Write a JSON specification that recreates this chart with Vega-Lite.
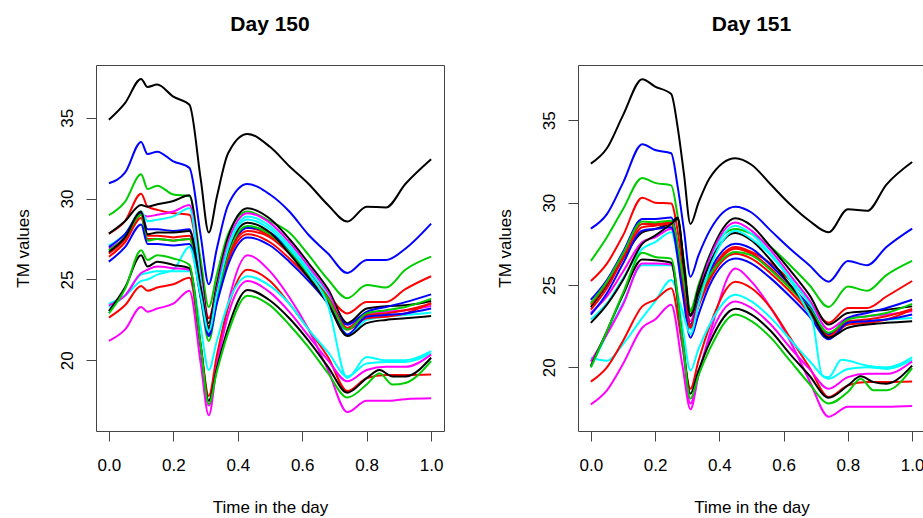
{
"$schema": "https://vega.github.io/schema/vega-lite/v6.json",
"background": "white",
"padding": {"left": 13, "top": 13, "right": 0, "bottom": 0},
"datasets": {
"d150": [
{"s":"k1","t":0,"v":34.87},{"s":"k1","t":0.05,"v":35.9},{"s":"k1","t":0.1,"v":37.4},{"s":"k1","t":0.12,"v":36.9},{"s":"k1","t":0.15,"v":37.05},{"s":"k1","t":0.2,"v":36.3},{"s":"k1","t":0.25,"v":35.8},{"s":"k1","t":0.31,"v":27.9},{"s":"k1","t":0.37,"v":32.8},{"s":"k1","t":0.43,"v":34.0},{"s":"k1","t":0.5,"v":33.2},{"s":"k1","t":0.56,"v":32.0},{"s":"k1","t":0.62,"v":30.9},{"s":"k1","t":0.68,"v":29.6},{"s":"k1","t":0.74,"v":28.58},{"s":"k1","t":0.8,"v":29.5},{"s":"k1","t":0.86,"v":29.45},{"s":"k1","t":0.92,"v":30.9},{"s":"k1","t":1,"v":32.43},
{"s":"b1","t":0,"v":30.95},{"s":"b1","t":0.05,"v":31.6},{"s":"b1","t":0.1,"v":33.5},{"s":"b1","t":0.12,"v":32.75},{"s":"b1","t":0.15,"v":32.9},{"s":"b1","t":0.2,"v":32.3},{"s":"b1","t":0.25,"v":31.9},{"s":"b1","t":0.31,"v":24.7},{"s":"b1","t":0.37,"v":29.6},{"s":"b1","t":0.43,"v":30.9},{"s":"b1","t":0.5,"v":30.25},{"s":"b1","t":0.56,"v":29.2},{"s":"b1","t":0.62,"v":27.75},{"s":"b1","t":0.68,"v":26.6},{"s":"b1","t":0.74,"v":25.4},{"s":"b1","t":0.8,"v":26.2},{"s":"b1","t":0.86,"v":26.2},{"s":"b1","t":0.92,"v":26.9},{"s":"b1","t":1,"v":28.45},
{"s":"g1","t":0,"v":28.97},{"s":"g1","t":0.05,"v":29.8},{"s":"g1","t":0.1,"v":31.5},{"s":"g1","t":0.12,"v":30.6},{"s":"g1","t":0.15,"v":30.8},{"s":"g1","t":0.2,"v":30.25},{"s":"g1","t":0.25,"v":30.15},{"s":"g1","t":0.31,"v":23.3},{"s":"g1","t":0.37,"v":27.8},{"s":"g1","t":0.43,"v":29.2},{"s":"g1","t":0.5,"v":28.6},{"s":"g1","t":0.56,"v":27.9},{"s":"g1","t":0.62,"v":26.5},{"s":"g1","t":0.68,"v":25.0},{"s":"g1","t":0.74,"v":23.84},{"s":"g1","t":0.8,"v":24.65},{"s":"g1","t":0.86,"v":24.5},{"s":"g1","t":0.92,"v":25.6},{"s":"g1","t":1,"v":26.41},
{"s":"r1","t":0,"v":27.83},{"s":"r1","t":0.05,"v":28.6},{"s":"r1","t":0.1,"v":30.3},{"s":"r1","t":0.12,"v":29.5},{"s":"r1","t":0.15,"v":29.3},{"s":"r1","t":0.2,"v":29.1},{"s":"r1","t":0.25,"v":29.0},{"s":"r1","t":0.31,"v":22.6},{"s":"r1","t":0.37,"v":26.8},{"s":"r1","t":0.43,"v":28.2},{"s":"r1","t":0.5,"v":27.7},{"s":"r1","t":0.56,"v":26.8},{"s":"r1","t":0.62,"v":25.6},{"s":"r1","t":0.68,"v":24.1},{"s":"r1","t":0.74,"v":22.9},{"s":"r1","t":0.8,"v":23.6},{"s":"r1","t":0.86,"v":23.6},{"s":"r1","t":0.92,"v":24.4},{"s":"r1","t":1,"v":25.2},
{"s":"k2","t":0,"v":27.83},{"s":"k2","t":0.05,"v":28.6},{"s":"k2","t":0.1,"v":29.6},{"s":"k2","t":0.12,"v":29.5},{"s":"k2","t":0.15,"v":29.65},{"s":"k2","t":0.2,"v":29.85},{"s":"k2","t":0.25,"v":30.2},{"s":"k2","t":0.31,"v":22.3},{"s":"k2","t":0.37,"v":27.6},{"s":"k2","t":0.43,"v":29.4},{"s":"k2","t":0.5,"v":28.75},{"s":"k2","t":0.56,"v":27.5},{"s":"k2","t":0.62,"v":26.0},{"s":"k2","t":0.68,"v":24.4},{"s":"k2","t":0.74,"v":22.3},{"s":"k2","t":0.8,"v":23.2},{"s":"k2","t":0.86,"v":23.35},{"s":"k2","t":0.92,"v":23.4},{"s":"k2","t":1,"v":23.67},
{"s":"m1","t":0,"v":26.9},{"s":"m1","t":0.05,"v":27.6},{"s":"m1","t":0.1,"v":29.0},{"s":"m1","t":0.12,"v":28.9},{"s":"m1","t":0.15,"v":29.0},{"s":"m1","t":0.2,"v":29.2},{"s":"m1","t":0.25,"v":29.6},{"s":"m1","t":0.31,"v":22.0},{"s":"m1","t":0.37,"v":27.3},{"s":"m1","t":0.43,"v":29.1},{"s":"m1","t":0.5,"v":28.5},{"s":"m1","t":0.56,"v":27.3},{"s":"m1","t":0.62,"v":25.8},{"s":"m1","t":0.68,"v":24.2},{"s":"m1","t":0.74,"v":22.0},{"s":"m1","t":0.8,"v":22.9},{"s":"m1","t":0.86,"v":23.0},{"s":"m1","t":0.92,"v":23.1},{"s":"m1","t":1,"v":23.36},
{"s":"c1","t":0,"v":27.1},{"s":"c1","t":0.05,"v":27.8},{"s":"c1","t":0.1,"v":29.2},{"s":"c1","t":0.12,"v":28.6},{"s":"c1","t":0.15,"v":28.7},{"s":"c1","t":0.2,"v":28.9},{"s":"c1","t":0.25,"v":29.4},{"s":"c1","t":0.31,"v":21.6},{"s":"c1","t":0.37,"v":27.0},{"s":"c1","t":0.43,"v":28.9},{"s":"c1","t":0.5,"v":28.3},{"s":"c1","t":0.56,"v":27.1},{"s":"c1","t":0.62,"v":25.6},{"s":"c1","t":0.68,"v":24.0},{"s":"c1","t":0.74,"v":21.6},{"s":"c1","t":0.8,"v":22.5},{"s":"c1","t":0.86,"v":22.7},{"s":"c1","t":0.92,"v":22.8},{"s":"c1","t":1,"v":22.95},
{"s":"b2","t":0,"v":27.0},{"s":"b2","t":0.05,"v":27.8},{"s":"b2","t":0.1,"v":29.1},{"s":"b2","t":0.12,"v":28.1},{"s":"b2","t":0.15,"v":28.1},{"s":"b2","t":0.2,"v":28.0},{"s":"b2","t":0.25,"v":28.1},{"s":"b2","t":0.31,"v":21.6},{"s":"b2","t":0.37,"v":26.3},{"s":"b2","t":0.43,"v":28.2},{"s":"b2","t":0.5,"v":27.9},{"s":"b2","t":0.56,"v":26.8},{"s":"b2","t":0.62,"v":25.4},{"s":"b2","t":0.68,"v":23.8},{"s":"b2","t":0.74,"v":22.2},{"s":"b2","t":0.8,"v":23.0},{"s":"b2","t":0.86,"v":23.3},{"s":"b2","t":0.92,"v":23.6},{"s":"b2","t":1,"v":24.08},
{"s":"r2","t":0,"v":26.6},{"s":"r2","t":0.05,"v":27.5},{"s":"r2","t":0.1,"v":29.0},{"s":"r2","t":0.12,"v":27.7},{"s":"r2","t":0.15,"v":27.7},{"s":"r2","t":0.2,"v":27.6},{"s":"r2","t":0.25,"v":27.7},{"s":"r2","t":0.31,"v":21.9},{"s":"r2","t":0.37,"v":26.4},{"s":"r2","t":0.43,"v":28.0},{"s":"r2","t":0.5,"v":27.6},{"s":"r2","t":0.56,"v":26.6},{"s":"r2","t":0.62,"v":25.3},{"s":"r2","t":0.68,"v":23.9},{"s":"r2","t":0.74,"v":22.0},{"s":"r2","t":0.8,"v":22.8},{"s":"r2","t":0.86,"v":22.9},{"s":"r2","t":0.92,"v":23.1},{"s":"r2","t":1,"v":23.5},
{"s":"r3","t":0,"v":26.4},{"s":"r3","t":0.05,"v":27.3},{"s":"r3","t":0.1,"v":28.8},{"s":"r3","t":0.12,"v":27.5},{"s":"r3","t":0.15,"v":27.5},{"s":"r3","t":0.2,"v":27.4},{"s":"r3","t":0.25,"v":27.5},{"s":"r3","t":0.31,"v":22.1},{"s":"r3","t":0.37,"v":26.2},{"s":"r3","t":0.43,"v":27.8},{"s":"r3","t":0.5,"v":27.3},{"s":"r3","t":0.56,"v":26.3},{"s":"r3","t":0.62,"v":25.1},{"s":"r3","t":0.68,"v":23.7},{"s":"r3","t":0.74,"v":21.9},{"s":"r3","t":0.8,"v":22.6},{"s":"r3","t":0.86,"v":22.7},{"s":"r3","t":0.92,"v":22.9},{"s":"r3","t":1,"v":23.55},
{"s":"g2","t":0,"v":26.8},{"s":"g2","t":0.05,"v":27.6},{"s":"g2","t":0.1,"v":29.0},{"s":"g2","t":0.12,"v":27.4},{"s":"g2","t":0.15,"v":27.5},{"s":"g2","t":0.2,"v":27.4},{"s":"g2","t":0.25,"v":27.5},{"s":"g2","t":0.31,"v":21.2},{"s":"g2","t":0.37,"v":26.6},{"s":"g2","t":0.43,"v":28.3},{"s":"g2","t":0.5,"v":27.8},{"s":"g2","t":0.56,"v":26.7},{"s":"g2","t":0.62,"v":25.3},{"s":"g2","t":0.68,"v":23.8},{"s":"g2","t":0.74,"v":21.9},{"s":"g2","t":0.8,"v":22.9},{"s":"g2","t":0.86,"v":23.1},{"s":"g2","t":0.92,"v":23.3},{"s":"g2","t":1,"v":23.8},
{"s":"b3","t":0,"v":26.1},{"s":"b3","t":0.05,"v":27.0},{"s":"b3","t":0.1,"v":28.4},{"s":"b3","t":0.12,"v":27.2},{"s":"b3","t":0.15,"v":27.2},{"s":"b3","t":0.2,"v":27.1},{"s":"b3","t":0.25,"v":27.2},{"s":"b3","t":0.31,"v":21.5},{"s":"b3","t":0.37,"v":25.9},{"s":"b3","t":0.43,"v":27.6},{"s":"b3","t":0.5,"v":27.1},{"s":"b3","t":0.56,"v":26.1},{"s":"b3","t":0.62,"v":24.9},{"s":"b3","t":0.68,"v":23.5},{"s":"b3","t":0.74,"v":21.6},{"s":"b3","t":0.8,"v":22.7},{"s":"b3","t":0.86,"v":22.8},{"s":"b3","t":0.92,"v":22.9},{"s":"b3","t":1,"v":23.2},
{"s":"k3","t":0,"v":26.7},{"s":"k3","t":0.05,"v":27.6},{"s":"k3","t":0.1,"v":29.2},{"s":"k3","t":0.12,"v":27.8},{"s":"k3","t":0.15,"v":27.9},{"s":"k3","t":0.2,"v":27.9},{"s":"k3","t":0.25,"v":28.0},{"s":"k3","t":0.31,"v":22.0},{"s":"k3","t":0.37,"v":26.8},{"s":"k3","t":0.43,"v":28.5},{"s":"k3","t":0.5,"v":27.9},{"s":"k3","t":0.56,"v":26.6},{"s":"k3","t":0.62,"v":25.1},{"s":"k3","t":0.68,"v":23.5},{"s":"k3","t":0.74,"v":21.5},{"s":"k3","t":0.8,"v":22.3},{"s":"k3","t":0.86,"v":22.5},{"s":"k3","t":0.92,"v":22.6},{"s":"k3","t":1,"v":22.74},
{"s":"c2","t":0,"v":23.5},{"s":"c2","t":0.05,"v":24.0},{"s":"c2","t":0.1,"v":24.9},{"s":"c2","t":0.12,"v":25.0},{"s":"c2","t":0.15,"v":25.3},{"s":"c2","t":0.2,"v":25.6},{"s":"c2","t":0.25,"v":27.0},{"s":"c2","t":0.31,"v":21.8},{"s":"c2","t":0.37,"v":26.9},{"s":"c2","t":0.43,"v":28.7},{"s":"c2","t":0.5,"v":28.1},{"s":"c2","t":0.56,"v":26.9},{"s":"c2","t":0.62,"v":25.4},{"s":"c2","t":0.68,"v":23.4},{"s":"c2","t":0.74,"v":18.9},{"s":"c2","t":0.8,"v":20.2},{"s":"c2","t":0.86,"v":20.0},{"s":"c2","t":0.92,"v":20.0},{"s":"c2","t":1,"v":20.57},
{"s":"m2","t":0,"v":21.2},{"s":"m2","t":0.05,"v":21.9},{"s":"m2","t":0.1,"v":23.3},{"s":"m2","t":0.12,"v":23.0},{"s":"m2","t":0.15,"v":23.2},{"s":"m2","t":0.2,"v":23.5},{"s":"m2","t":0.25,"v":24.3},{"s":"m2","t":0.31,"v":16.6},{"s":"m2","t":0.37,"v":23.5},{"s":"m2","t":0.43,"v":26.5},{"s":"m2","t":0.5,"v":25.5},{"s":"m2","t":0.56,"v":23.9},{"s":"m2","t":0.62,"v":21.9},{"s":"m2","t":0.68,"v":19.4},{"s":"m2","t":0.74,"v":16.8},{"s":"m2","t":0.8,"v":17.5},{"s":"m2","t":0.86,"v":17.5},{"s":"m2","t":0.92,"v":17.6},{"s":"m2","t":1,"v":17.65},
{"s":"r4","t":0,"v":22.64},{"s":"r4","t":0.05,"v":23.4},{"s":"r4","t":0.1,"v":24.6},{"s":"r4","t":0.12,"v":24.3},{"s":"r4","t":0.15,"v":24.5},{"s":"r4","t":0.2,"v":24.7},{"s":"r4","t":0.25,"v":25.1},{"s":"r4","t":0.31,"v":17.8},{"s":"r4","t":0.37,"v":23.3},{"s":"r4","t":0.43,"v":25.6},{"s":"r4","t":0.5,"v":24.9},{"s":"r4","t":0.56,"v":23.5},{"s":"r4","t":0.62,"v":21.9},{"s":"r4","t":0.68,"v":20.2},{"s":"r4","t":0.74,"v":18.1},{"s":"r4","t":0.8,"v":18.9},{"s":"r4","t":0.86,"v":19.1},{"s":"r4","t":0.92,"v":19.1},{"s":"r4","t":1,"v":19.13},
{"s":"c3","t":0,"v":23.3},{"s":"c3","t":0.05,"v":24.0},{"s":"c3","t":0.1,"v":25.3},{"s":"c3","t":0.12,"v":25.4},{"s":"c3","t":0.15,"v":25.5},{"s":"c3","t":0.2,"v":25.5},{"s":"c3","t":0.25,"v":25.5},{"s":"c3","t":0.31,"v":19.4},{"s":"c3","t":0.37,"v":23.5},{"s":"c3","t":0.43,"v":25.2},{"s":"c3","t":0.5,"v":24.6},{"s":"c3","t":0.56,"v":23.5},{"s":"c3","t":0.62,"v":21.9},{"s":"c3","t":0.68,"v":20.5},{"s":"c3","t":0.74,"v":19.0},{"s":"c3","t":0.8,"v":19.8},{"s":"c3","t":0.86,"v":19.9},{"s":"c3","t":0.92,"v":19.9},{"s":"c3","t":1,"v":20.45},
{"s":"m3","t":0,"v":23.4},{"s":"m3","t":0.05,"v":24.0},{"s":"m3","t":0.1,"v":25.4},{"s":"m3","t":0.12,"v":25.6},{"s":"m3","t":0.15,"v":25.8},{"s":"m3","t":0.2,"v":25.7},{"s":"m3","t":0.25,"v":25.6},{"s":"m3","t":0.31,"v":17.2},{"s":"m3","t":0.37,"v":22.8},{"s":"m3","t":0.43,"v":24.9},{"s":"m3","t":0.5,"v":24.2},{"s":"m3","t":0.56,"v":23.0},{"s":"m3","t":0.62,"v":21.5},{"s":"m3","t":0.68,"v":20.0},{"s":"m3","t":0.74,"v":18.7},{"s":"m3","t":0.8,"v":19.4},{"s":"m3","t":0.86,"v":19.6},{"s":"m3","t":0.92,"v":19.6},{"s":"m3","t":1,"v":20.35},
{"s":"k4","t":0,"v":23.05},{"s":"k4","t":0.05,"v":24.5},{"s":"k4","t":0.1,"v":26.5},{"s":"k4","t":0.12,"v":25.8},{"s":"k4","t":0.15,"v":26.1},{"s":"k4","t":0.2,"v":25.9},{"s":"k4","t":0.25,"v":25.7},{"s":"k4","t":0.31,"v":17.5},{"s":"k4","t":0.37,"v":22.0},{"s":"k4","t":0.43,"v":24.35},{"s":"k4","t":0.5,"v":23.7},{"s":"k4","t":0.56,"v":22.6},{"s":"k4","t":0.62,"v":21.2},{"s":"k4","t":0.68,"v":19.6},{"s":"k4","t":0.74,"v":18.0},{"s":"k4","t":0.8,"v":18.9},{"s":"k4","t":0.84,"v":19.4},{"s":"k4","t":0.88,"v":19.0},{"s":"k4","t":0.92,"v":19.0},{"s":"k4","t":1,"v":20.16},
{"s":"g3","t":0,"v":22.9},{"s":"g3","t":0.05,"v":24.4},{"s":"g3","t":0.1,"v":26.8},{"s":"g3","t":0.12,"v":26.2},{"s":"g3","t":0.15,"v":26.5},{"s":"g3","t":0.2,"v":26.3},{"s":"g3","t":0.25,"v":25.9},{"s":"g3","t":0.31,"v":17.3},{"s":"g3","t":0.37,"v":21.7},{"s":"g3","t":0.43,"v":24.0},{"s":"g3","t":0.5,"v":23.4},{"s":"g3","t":0.56,"v":22.2},{"s":"g3","t":0.62,"v":20.8},{"s":"g3","t":0.68,"v":19.2},{"s":"g3","t":0.74,"v":17.7},{"s":"g3","t":0.8,"v":18.5},{"s":"g3","t":0.84,"v":19.2},{"s":"g3","t":0.88,"v":18.5},{"s":"g3","t":0.92,"v":18.6},{"s":"g3","t":1,"v":19.95},
{"s":"k1","t":0.285,"v":31.2},{"s":"k1","t":0.335,"v":30.1},
{"s":"b1","t":0.285,"v":27.7},{"s":"b1","t":0.335,"v":26.9},
{"s":"g1","t":0.285,"v":26.2},{"s":"g1","t":0.335,"v":25.3},
{"s":"r1","t":0.285,"v":25.3},{"s":"r1","t":0.335,"v":24.5},
{"s":"k2","t":0.285,"v":25.6},{"s":"k2","t":0.335,"v":24.7},
{"s":"m1","t":0.285,"v":25.2},{"s":"m1","t":0.335,"v":24.4},
{"s":"c1","t":0.285,"v":24.9},{"s":"c1","t":0.335,"v":24.0},
{"s":"b2","t":0.285,"v":24.3},{"s":"b2","t":0.335,"v":23.7},
{"s":"r2","t":0.285,"v":24.3},{"s":"r2","t":0.335,"v":23.9},
{"s":"r3","t":0.285,"v":24.4},{"s":"r3","t":0.335,"v":23.9},
{"s":"g2","t":0.285,"v":23.8},{"s":"g2","t":0.335,"v":23.6},
{"s":"b3","t":0.285,"v":23.9},{"s":"b3","t":0.335,"v":23.5},
{"s":"k3","t":0.285,"v":24.5},{"s":"k3","t":0.335,"v":24.2},
{"s":"c2","t":0.285,"v":24.0},{"s":"c2","t":0.335,"v":24.1},
{"s":"m2","t":0.285,"v":19.8},{"s":"m2","t":0.335,"v":19.7},
{"s":"r4","t":0.285,"v":20.9},{"s":"r4","t":0.335,"v":20.3},
{"s":"c3","t":0.285,"v":22.0},{"s":"c3","t":0.335,"v":21.2},
{"s":"m3","t":0.285,"v":20.7},{"s":"m3","t":0.335,"v":19.7},
{"s":"k4","t":0.285,"v":20.9},{"s":"k4","t":0.335,"v":19.5},
{"s":"g3","t":0.285,"v":20.9},{"s":"g3","t":0.335,"v":19.3}
],
"d151": [
{"s":"k1","t":0,"v":32.37},{"s":"k1","t":0.05,"v":33.3},{"s":"k1","t":0.1,"v":35.3},{"s":"k1","t":0.16,"v":37.5},{"s":"k1","t":0.2,"v":37.05},{"s":"k1","t":0.25,"v":36.6},{"s":"k1","t":0.27,"v":34.6},{"s":"k1","t":0.31,"v":28.7},{"s":"k1","t":0.37,"v":31.5},{"s":"k1","t":0.45,"v":32.7},{"s":"k1","t":0.5,"v":32.3},{"s":"k1","t":0.56,"v":31.1},{"s":"k1","t":0.62,"v":29.9},{"s":"k1","t":0.68,"v":28.9},{"s":"k1","t":0.74,"v":28.2},{"s":"k1","t":0.8,"v":29.6},{"s":"k1","t":0.86,"v":29.5},{"s":"k1","t":0.92,"v":31.1},{"s":"k1","t":1,"v":32.47},
{"s":"b1","t":0,"v":28.42},{"s":"b1","t":0.05,"v":29.3},{"s":"b1","t":0.1,"v":31.2},{"s":"b1","t":0.16,"v":33.55},{"s":"b1","t":0.2,"v":33.2},{"s":"b1","t":0.25,"v":33.0},{"s":"b1","t":0.27,"v":31.0},{"s":"b1","t":0.31,"v":25.5},{"s":"b1","t":0.37,"v":28.3},{"s":"b1","t":0.45,"v":29.75},{"s":"b1","t":0.5,"v":29.4},{"s":"b1","t":0.56,"v":28.3},{"s":"b1","t":0.62,"v":27.2},{"s":"b1","t":0.68,"v":26.2},{"s":"b1","t":0.74,"v":25.2},{"s":"b1","t":0.8,"v":26.45},{"s":"b1","t":0.86,"v":26.2},{"s":"b1","t":0.92,"v":27.3},{"s":"b1","t":1,"v":28.42},
{"s":"g1","t":0,"v":26.46},{"s":"g1","t":0.05,"v":27.9},{"s":"g1","t":0.1,"v":29.6},{"s":"g1","t":0.16,"v":31.5},{"s":"g1","t":0.2,"v":31.2},{"s":"g1","t":0.25,"v":31.05},{"s":"g1","t":0.27,"v":29.2},{"s":"g1","t":0.31,"v":23.5},{"s":"g1","t":0.37,"v":26.8},{"s":"g1","t":0.45,"v":28.4},{"s":"g1","t":0.5,"v":28.1},{"s":"g1","t":0.56,"v":27.3},{"s":"g1","t":0.62,"v":26.2},{"s":"g1","t":0.68,"v":25.0},{"s":"g1","t":0.74,"v":23.66},{"s":"g1","t":0.8,"v":24.9},{"s":"g1","t":0.86,"v":24.65},{"s":"g1","t":0.92,"v":25.6},{"s":"g1","t":1,"v":26.46},
{"s":"r1","t":0,"v":25.24},{"s":"r1","t":0.05,"v":26.3},{"s":"r1","t":0.1,"v":28.0},{"s":"r1","t":0.16,"v":30.3},{"s":"r1","t":0.2,"v":30.0},{"s":"r1","t":0.25,"v":29.95},{"s":"r1","t":0.27,"v":28.3},{"s":"r1","t":0.31,"v":22.4},{"s":"r1","t":0.37,"v":25.6},{"s":"r1","t":0.45,"v":27.3},{"s":"r1","t":0.5,"v":27.0},{"s":"r1","t":0.56,"v":26.3},{"s":"r1","t":0.62,"v":25.3},{"s":"r1","t":0.68,"v":24.0},{"s":"r1","t":0.74,"v":22.7},{"s":"r1","t":0.8,"v":23.6},{"s":"r1","t":0.86,"v":23.6},{"s":"r1","t":0.92,"v":24.3},{"s":"r1","t":1,"v":25.24},
{"s":"k2","t":0,"v":23.65},{"s":"k2","t":0.05,"v":25.0},{"s":"k2","t":0.1,"v":26.6},{"s":"k2","t":0.16,"v":28.2},{"s":"k2","t":0.2,"v":28.4},{"s":"k2","t":0.25,"v":28.8},{"s":"k2","t":0.27,"v":29.1},{"s":"k2","t":0.31,"v":23.2},{"s":"k2","t":0.37,"v":26.8},{"s":"k2","t":0.45,"v":29.05},{"s":"k2","t":0.5,"v":28.6},{"s":"k2","t":0.56,"v":27.3},{"s":"k2","t":0.62,"v":25.9},{"s":"k2","t":0.68,"v":24.4},{"s":"k2","t":0.74,"v":22.6},{"s":"k2","t":0.8,"v":23.3},{"s":"k2","t":0.86,"v":23.4},{"s":"k2","t":0.92,"v":23.5},{"s":"k2","t":1,"v":23.7},
{"s":"m1","t":0,"v":23.3},{"s":"m1","t":0.05,"v":24.3},{"s":"m1","t":0.1,"v":25.8},{"s":"m1","t":0.16,"v":27.6},{"s":"m1","t":0.2,"v":27.9},{"s":"m1","t":0.25,"v":28.4},{"s":"m1","t":0.31,"v":22.8},{"s":"m1","t":0.37,"v":26.6},{"s":"m1","t":0.45,"v":28.8},{"s":"m1","t":0.5,"v":28.3},{"s":"m1","t":0.56,"v":27.1},{"s":"m1","t":0.62,"v":25.6},{"s":"m1","t":0.68,"v":24.1},{"s":"m1","t":0.74,"v":22.3},{"s":"m1","t":0.8,"v":23.0},{"s":"m1","t":0.86,"v":23.1},{"s":"m1","t":0.92,"v":23.2},{"s":"m1","t":1,"v":23.4},
{"s":"c1","t":0,"v":22.9},{"s":"c1","t":0.05,"v":23.9},{"s":"c1","t":0.1,"v":25.4},{"s":"c1","t":0.16,"v":27.2},{"s":"c1","t":0.2,"v":27.6},{"s":"c1","t":0.25,"v":28.2},{"s":"c1","t":0.31,"v":22.3},{"s":"c1","t":0.37,"v":26.3},{"s":"c1","t":0.45,"v":28.6},{"s":"c1","t":0.5,"v":28.1},{"s":"c1","t":0.56,"v":26.9},{"s":"c1","t":0.62,"v":25.4},{"s":"c1","t":0.68,"v":23.9},{"s":"c1","t":0.74,"v":22.0},{"s":"c1","t":0.8,"v":22.6},{"s":"c1","t":0.86,"v":22.8},{"s":"c1","t":0.92,"v":22.9},{"s":"c1","t":1,"v":23.0},
{"s":"b2","t":0,"v":24.1},{"s":"b2","t":0.05,"v":25.3},{"s":"b2","t":0.1,"v":27.0},{"s":"b2","t":0.16,"v":29.0},{"s":"b2","t":0.2,"v":29.0},{"s":"b2","t":0.25,"v":29.1},{"s":"b2","t":0.31,"v":22.6},{"s":"b2","t":0.37,"v":25.8},{"s":"b2","t":0.45,"v":27.5},{"s":"b2","t":0.5,"v":27.2},{"s":"b2","t":0.56,"v":26.2},{"s":"b2","t":0.62,"v":25.0},{"s":"b2","t":0.68,"v":23.7},{"s":"b2","t":0.74,"v":22.0},{"s":"b2","t":0.8,"v":23.0},{"s":"b2","t":0.86,"v":23.3},{"s":"b2","t":0.92,"v":23.6},{"s":"b2","t":1,"v":24.1},
{"s":"r2","t":0,"v":23.8},{"s":"r2","t":0.05,"v":25.1},{"s":"r2","t":0.1,"v":26.8},{"s":"r2","t":0.16,"v":28.7},{"s":"r2","t":0.2,"v":28.7},{"s":"r2","t":0.25,"v":28.8},{"s":"r2","t":0.31,"v":22.5},{"s":"r2","t":0.37,"v":25.5},{"s":"r2","t":0.45,"v":27.2},{"s":"r2","t":0.5,"v":26.9},{"s":"r2","t":0.56,"v":26.0},{"s":"r2","t":0.62,"v":24.8},{"s":"r2","t":0.68,"v":23.5},{"s":"r2","t":0.74,"v":21.9},{"s":"r2","t":0.8,"v":22.8},{"s":"r2","t":0.86,"v":22.9},{"s":"r2","t":0.92,"v":23.1},{"s":"r2","t":1,"v":23.55},
{"s":"r3","t":0,"v":23.5},{"s":"r3","t":0.05,"v":24.8},{"s":"r3","t":0.1,"v":26.6},{"s":"r3","t":0.16,"v":28.5},{"s":"r3","t":0.2,"v":28.6},{"s":"r3","t":0.25,"v":28.7},{"s":"r3","t":0.31,"v":22.4},{"s":"r3","t":0.37,"v":25.3},{"s":"r3","t":0.45,"v":26.9},{"s":"r3","t":0.5,"v":26.6},{"s":"r3","t":0.56,"v":25.7},{"s":"r3","t":0.62,"v":24.6},{"s":"r3","t":0.68,"v":23.3},{"s":"r3","t":0.74,"v":21.8},{"s":"r3","t":0.8,"v":22.6},{"s":"r3","t":0.86,"v":22.7},{"s":"r3","t":0.92,"v":22.9},{"s":"r3","t":1,"v":23.5},
{"s":"g2","t":0,"v":23.9},{"s":"g2","t":0.05,"v":25.2},{"s":"g2","t":0.1,"v":26.9},{"s":"g2","t":0.16,"v":28.85},{"s":"g2","t":0.2,"v":28.8},{"s":"g2","t":0.25,"v":28.9},{"s":"g2","t":0.31,"v":23.4},{"s":"g2","t":0.37,"v":25.6},{"s":"g2","t":0.45,"v":27.0},{"s":"g2","t":0.5,"v":26.8},{"s":"g2","t":0.56,"v":25.9},{"s":"g2","t":0.62,"v":24.8},{"s":"g2","t":0.68,"v":23.6},{"s":"g2","t":0.74,"v":22.1},{"s":"g2","t":0.8,"v":22.9},{"s":"g2","t":0.86,"v":23.1},{"s":"g2","t":0.92,"v":23.3},{"s":"g2","t":1,"v":23.85},
{"s":"b3","t":0,"v":23.2},{"s":"b3","t":0.05,"v":24.5},{"s":"b3","t":0.1,"v":26.3},{"s":"b3","t":0.16,"v":28.3},{"s":"b3","t":0.2,"v":28.4},{"s":"b3","t":0.25,"v":28.5},{"s":"b3","t":0.31,"v":21.8},{"s":"b3","t":0.37,"v":25.0},{"s":"b3","t":0.45,"v":26.6},{"s":"b3","t":0.5,"v":26.3},{"s":"b3","t":0.56,"v":25.4},{"s":"b3","t":0.62,"v":24.3},{"s":"b3","t":0.68,"v":23.1},{"s":"b3","t":0.74,"v":21.7},{"s":"b3","t":0.8,"v":22.7},{"s":"b3","t":0.86,"v":22.8},{"s":"b3","t":0.92,"v":22.9},{"s":"b3","t":1,"v":23.2},
{"s":"k3","t":0,"v":22.7},{"s":"k3","t":0.05,"v":23.8},{"s":"k3","t":0.1,"v":25.3},{"s":"k3","t":0.16,"v":27.5},{"s":"k3","t":0.2,"v":28.0},{"s":"k3","t":0.25,"v":28.7},{"s":"k3","t":0.27,"v":29.0},{"s":"k3","t":0.31,"v":23.1},{"s":"k3","t":0.37,"v":26.3},{"s":"k3","t":0.45,"v":28.15},{"s":"k3","t":0.5,"v":27.7},{"s":"k3","t":0.56,"v":26.5},{"s":"k3","t":0.62,"v":25.0},{"s":"k3","t":0.68,"v":23.5},{"s":"k3","t":0.74,"v":21.8},{"s":"k3","t":0.8,"v":22.4},{"s":"k3","t":0.86,"v":22.6},{"s":"k3","t":0.92,"v":22.7},{"s":"k3","t":1,"v":22.8},
{"s":"c2","t":0,"v":20.58},{"s":"c2","t":0.05,"v":20.4},{"s":"c2","t":0.1,"v":21.4},{"s":"c2","t":0.16,"v":23.0},{"s":"c2","t":0.2,"v":24.0},{"s":"c2","t":0.25,"v":25.3},{"s":"c2","t":0.31,"v":22.0},{"s":"c2","t":0.37,"v":26.0},{"s":"c2","t":0.45,"v":28.3},{"s":"c2","t":0.5,"v":27.8},{"s":"c2","t":0.56,"v":26.8},{"s":"c2","t":0.62,"v":25.3},{"s":"c2","t":0.68,"v":23.2},{"s":"c2","t":0.69,"v":22.8},{"s":"c2","t":0.72,"v":19.5},{"s":"c2","t":0.74,"v":19.4},{"s":"c2","t":0.78,"v":20.45},{"s":"c2","t":0.86,"v":20.1},{"s":"c2","t":0.92,"v":20.0},{"s":"c2","t":1,"v":20.6},
{"s":"m2","t":0,"v":17.75},{"s":"m2","t":0.05,"v":18.6},{"s":"m2","t":0.1,"v":20.2},{"s":"m2","t":0.16,"v":22.4},{"s":"m2","t":0.2,"v":22.9},{"s":"m2","t":0.25,"v":23.8},{"s":"m2","t":0.31,"v":17.45},{"s":"m2","t":0.37,"v":22.0},{"s":"m2","t":0.45,"v":26.0},{"s":"m2","t":0.5,"v":25.2},{"s":"m2","t":0.56,"v":23.6},{"s":"m2","t":0.62,"v":21.6},{"s":"m2","t":0.68,"v":19.2},{"s":"m2","t":0.74,"v":17.0},{"s":"m2","t":0.8,"v":17.6},{"s":"m2","t":0.86,"v":17.6},{"s":"m2","t":0.92,"v":17.6},{"s":"m2","t":1,"v":17.65},
{"s":"r4","t":0,"v":19.13},{"s":"r4","t":0.05,"v":20.0},{"s":"r4","t":0.1,"v":21.6},{"s":"r4","t":0.16,"v":23.7},{"s":"r4","t":0.2,"v":24.1},{"s":"r4","t":0.25,"v":24.8},{"s":"r4","t":0.31,"v":18.7},{"s":"r4","t":0.37,"v":22.5},{"s":"r4","t":0.45,"v":25.2},{"s":"r4","t":0.5,"v":24.8},{"s":"r4","t":0.56,"v":23.6},{"s":"r4","t":0.62,"v":21.8},{"s":"r4","t":0.68,"v":20.0},{"s":"r4","t":0.74,"v":18.2},{"s":"r4","t":0.8,"v":18.9},{"s":"r4","t":0.86,"v":19.1},{"s":"r4","t":0.92,"v":19.1},{"s":"r4","t":1,"v":19.13},
{"s":"c3","t":0,"v":20.0},{"s":"c3","t":0.05,"v":22.0},{"s":"c3","t":0.1,"v":23.9},{"s":"c3","t":0.16,"v":26.2},{"s":"c3","t":0.2,"v":26.2},{"s":"c3","t":0.25,"v":26.2},{"s":"c3","t":0.31,"v":19.8},{"s":"c3","t":0.37,"v":22.6},{"s":"c3","t":0.45,"v":24.4},{"s":"c3","t":0.5,"v":24.0},{"s":"c3","t":0.56,"v":23.0},{"s":"c3","t":0.62,"v":21.7},{"s":"c3","t":0.68,"v":20.4},{"s":"c3","t":0.74,"v":19.3},{"s":"c3","t":0.8,"v":19.9},{"s":"c3","t":0.86,"v":20.0},{"s":"c3","t":0.92,"v":19.9},{"s":"c3","t":1,"v":20.45},
{"s":"m3","t":0,"v":20.35},{"s":"m3","t":0.05,"v":22.0},{"s":"m3","t":0.1,"v":23.8},{"s":"m3","t":0.16,"v":26.3},{"s":"m3","t":0.2,"v":26.3},{"s":"m3","t":0.25,"v":26.25},{"s":"m3","t":0.31,"v":17.8},{"s":"m3","t":0.37,"v":21.8},{"s":"m3","t":0.45,"v":24.0},{"s":"m3","t":0.5,"v":23.6},{"s":"m3","t":0.56,"v":22.6},{"s":"m3","t":0.62,"v":21.2},{"s":"m3","t":0.68,"v":19.9},{"s":"m3","t":0.74,"v":18.7},{"s":"m3","t":0.8,"v":19.4},{"s":"m3","t":0.86,"v":19.6},{"s":"m3","t":0.92,"v":19.6},{"s":"m3","t":1,"v":20.35},
{"s":"k4","t":0,"v":20.08},{"s":"k4","t":0.05,"v":22.2},{"s":"k4","t":0.1,"v":24.4},{"s":"k4","t":0.16,"v":26.55},{"s":"k4","t":0.2,"v":26.5},{"s":"k4","t":0.25,"v":26.35},{"s":"k4","t":0.31,"v":18.4},{"s":"k4","t":0.37,"v":21.5},{"s":"k4","t":0.45,"v":23.55},{"s":"k4","t":0.5,"v":23.2},{"s":"k4","t":0.56,"v":22.2},{"s":"k4","t":0.62,"v":20.8},{"s":"k4","t":0.68,"v":19.5},{"s":"k4","t":0.74,"v":18.15},{"s":"k4","t":0.8,"v":18.9},{"s":"k4","t":0.84,"v":19.45},{"s":"k4","t":0.88,"v":19.1},{"s":"k4","t":0.92,"v":19.0},{"s":"k4","t":1,"v":20.1},
{"s":"g3","t":0,"v":20.0},{"s":"g3","t":0.05,"v":22.2},{"s":"g3","t":0.1,"v":24.5},{"s":"g3","t":0.16,"v":26.95},{"s":"g3","t":0.2,"v":26.7},{"s":"g3","t":0.25,"v":26.6},{"s":"g3","t":0.31,"v":18.1},{"s":"g3","t":0.37,"v":21.1},{"s":"g3","t":0.45,"v":23.2},{"s":"g3","t":0.5,"v":22.8},{"s":"g3","t":0.56,"v":21.8},{"s":"g3","t":0.62,"v":20.4},{"s":"g3","t":0.68,"v":19.0},{"s":"g3","t":0.74,"v":17.8},{"s":"g3","t":0.8,"v":18.5},{"s":"g3","t":0.84,"v":19.3},{"s":"g3","t":0.88,"v":18.6},{"s":"g3","t":0.92,"v":18.6},{"s":"g3","t":1,"v":19.95},
{"s":"k1","t":0.29,"v":31.7},{"s":"k1","t":0.335,"v":30.0},
{"s":"b1","t":0.29,"v":28.3},{"s":"b1","t":0.335,"v":26.8},
{"s":"g1","t":0.29,"v":26.4},{"s":"g1","t":0.335,"v":25.0},
{"s":"r1","t":0.29,"v":25.4},{"s":"r1","t":0.335,"v":23.9},
{"s":"k2","t":0.29,"v":26.2},{"s":"k2","t":0.335,"v":24.8},
{"s":"k3","t":0.29,"v":26.1},{"s":"k3","t":0.335,"v":24.5},
{"s":"m1","t":0.285,"v":25.2},{"s":"m1","t":0.335,"v":24.5},
{"s":"c1","t":0.285,"v":24.8},{"s":"c1","t":0.335,"v":24.1},
{"s":"b2","t":0.285,"v":25.3},{"s":"b2","t":0.335,"v":24.0},
{"s":"r2","t":0.285,"v":25.1},{"s":"r2","t":0.335,"v":23.9},
{"s":"r3","t":0.285,"v":25.0},{"s":"r3","t":0.335,"v":23.7},
{"s":"g2","t":0.285,"v":25.7},{"s":"g2","t":0.335,"v":24.4},
{"s":"b3","t":0.285,"v":24.6},{"s":"b3","t":0.335,"v":23.2},
{"s":"c2","t":0.285,"v":23.4},{"s":"c2","t":0.335,"v":23.8},
{"s":"m2","t":0.285,"v":20.1},{"s":"m2","t":0.335,"v":19.5},
{"s":"r4","t":0.285,"v":21.3},{"s":"r4","t":0.335,"v":20.4},
{"s":"c3","t":0.285,"v":22.5},{"s":"c3","t":0.335,"v":21.1},
{"s":"m3","t":0.285,"v":21.4},{"s":"m3","t":0.335,"v":19.6},
{"s":"k4","t":0.285,"v":21.7},{"s":"k4","t":0.335,"v":19.8},
{"s":"g3","t":0.285,"v":21.7},{"s":"g3","t":0.335,"v":19.5}
]
},
"config": {
"view": {"stroke": "#444", "strokeWidth": 1},
"axis": {"grid": false, "domain": false, "tickColor": "#444", "tickSize": 10, "tickWidth": 1, "labelFont": "Liberation Sans", "labelFontSize": 17, "labelColor": "#000", "labelFlush": false, "labelOverlap": false, "titleFont": "Liberation Sans", "titleFontSize": 17, "titleFontWeight": "normal", "titleColor": "#000"},
"axisX": {"labelBaseline": "alphabetic", "labelPadding": 29, "titleY": 81, "titleBaseline": "alphabetic"},
"axisY": {"labelAngle": -90, "labelAlign": "center", "labelBaseline": "alphabetic", "labelPadding": 14, "titleX": -68, "titleY": 183, "titleAngle": -90, "titleAlign": "center", "titleBaseline": "alphabetic"},
"title": {"font": "Liberation Sans", "fontSize": 21, "fontWeight": "bold", "color": "#000", "anchor": "middle", "frame": "group", "offset": 30, "baseline": "alphabetic"}
},
"bounds": "flush",
"spacing": 134,
"hconcat": [
{
"title": "Day 150",
"width": 348, "height": 366,
"data": {"name": "d150"},
"mark": {"type": "line", "strokeWidth": 2, "strokeJoin": "round", "interpolate": "monotone", "clip": true},
"encoding": {
"x": {"field": "t", "type": "quantitative", "scale": {"domain": [-0.04, 1.04], "nice": false, "zero": false}, "axis": {"values": [0, 0.2, 0.4, 0.6, 0.8, 1], "format": ".1f", "title": "Time in the day"}},
"y": {"field": "v", "type": "quantitative", "scale": {"domain": [15.63, 38.26], "nice": false, "zero": false}, "axis": {"values": [20, 25, 30, 35], "title": "TM values"}},
"color": {"field": "s", "type": "nominal", "legend": null, "scale": {"domain": ["k1","b1","g1","r1","k2","m1","c1","b2","r2","r3","g2","b3","k3","c2","m2","r4","c3","m3","k4","g3"], "range": ["#000000","#0000FF","#00CD00","#FF0000","#000000","#FF00FF","#00FFFF","#0000FF","#FF0000","#FF0000","#00CD00","#0000FF","#000000","#00FFFF","#FF00FF","#FF0000","#00FFFF","#FF00FF","#000000","#00CD00"]}}
}
},
{
"title": "Day 151",
"width": 347, "height": 366,
"data": {"name": "d151"},
"mark": {"type": "line", "strokeWidth": 2, "strokeJoin": "round", "interpolate": "monotone", "clip": true},
"encoding": {
"x": {"field": "t", "type": "quantitative", "scale": {"domain": [-0.04, 1.04], "nice": false, "zero": false}, "axis": {"values": [0, 0.2, 0.4, 0.6, 0.8, 1], "format": ".1f", "title": "Time in the day"}},
"y": {"field": "v", "type": "quantitative", "scale": {"domain": [16.13, 38.36], "nice": false, "zero": false}, "axis": {"values": [20, 25, 30, 35], "title": "TM values"}},
"color": {"field": "s", "type": "nominal", "legend": null, "scale": {"domain": ["k1","b1","g1","r1","k2","m1","c1","b2","r2","r3","g2","b3","k3","c2","m2","r4","c3","m3","k4","g3"], "range": ["#000000","#0000FF","#00CD00","#FF0000","#000000","#FF00FF","#00FFFF","#0000FF","#FF0000","#FF0000","#00CD00","#0000FF","#000000","#00FFFF","#FF00FF","#FF0000","#00FFFF","#FF00FF","#000000","#00CD00"]}}
}
}
]
}
